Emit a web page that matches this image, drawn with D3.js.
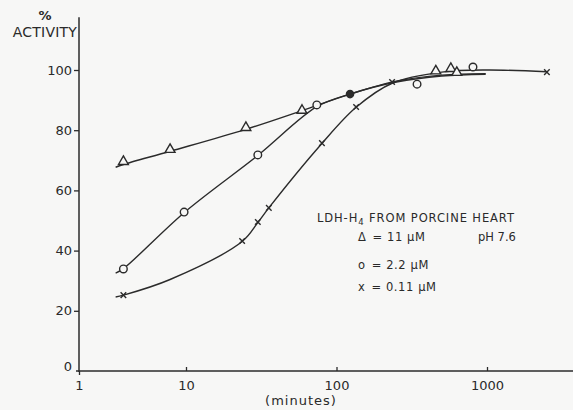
<!DOCTYPE html>
<html>
<head>
<meta charset="utf-8">
<script src="https://cdn.jsdelivr.net/npm/d3@7"></script>
<style>
  html, body { margin: 0; padding: 0; background: #f7f7f6; }
  svg { display: block; }
  text { font-family: "DejaVu Sans", sans-serif; fill: #2a2a2a; }
</style>
</head>
<body>
<svg id="chart" width="573" height="410"></svg>
<script>
// ---- data (time in minutes, % activity) ----
const xTickValues = [1, 10, 100, 1000];
const xTickLabels = ["1", "10", "100", "1000"];
const yTickValues = [0, 20, 40, 60, 80, 100];

// triangles: 11 µM
const triTime  = [2.6, 7.1, 25, 59, 457, 575, 630];
const triValue = [69.4, 73.4, 80.7, 86.4, 99.5, 100.3, 99.0];
// circles: 2.2 µM
const circTime  = [2.6, 9.6, 30, 74, 343, 807];
const circValue = [33.9, 52.8, 71.8, 88.4, 95.3, 101.0];
// crosses: 0.11 µM
const crossTime  = [2.6, 23.6, 30, 35.5, 80, 135, 234, 2500];
const crossValue = [25.2, 43.2, 49.5, 54.2, 75.7, 87.7, 96.0, 99.3];
// common filled point
const dotTime  = [123];
const dotValue = [92.0];

// hand-drawn fitted curves
const triCurveTime   = [2.2, 2.6, 7.1, 25, 59, 123, 250, 500, 980];
const triCurveValue  = [67.7, 68.6, 73.0, 80.3, 86.5, 92.0, 96.3, 98.3, 98.8];
const circCurveTime  = [2.2, 2.6, 9.6, 30, 74, 123, 250, 500, 980];
const circCurveValue = [32.5, 34.0, 52.6, 71.6, 87.8, 92.0, 96.0, 98.0, 98.6];
const crossCurveTime  = [2.2, 2.6, 7.1, 23.6, 30, 35.5, 80, 135, 234, 500, 1000, 2500];
const crossCurveValue = [24.6, 25.2, 30.4, 43.0, 49.3, 54.2, 75.6, 87.6, 95.6, 99.3, 100.0, 99.4];

const legendTitle = ["LDH-H", "4", " FROM PORCINE HEART"];
const legendRows = [
  { sym: "\u0394", text: "= 11 \u03BCM" },
  { sym: "o", text: "= 2.2 \u03BCM" },
  { sym: "x", text: "= 0.11 \u03BCM" }
];
const phLabel = "pH 7.6";

// ---- layout ----
const ink = "#2b2b2b";
const bg = "#f7f7f6";
const svg = d3.select("#chart");
const x = d3.scaleLog()
  .domain([1, 10, 100, 1000, 10000])
  .range([79, 186, 336.5, 487, 637.5]);
const y = d3.scaleLinear().domain([0, 100]).range([371, 70]);
const xEnd = 4000;   // axis line runs to the right edge
const yTop = 117.5;  // axis line runs above 100

// y axis
const yAxis = d3.axisLeft(y).tickValues(yTickValues).tickSize(5).tickPadding(2)
  .tickFormat(d => String(d));
const gy = svg.append("g").attr("transform", "translate(79,0)").call(yAxis);
gy.select(".domain").remove();
gy.selectAll("line").attr("stroke", ink).attr("stroke-width", 1.3);
gy.selectAll("text").attr("font-size", 13).attr("fill", ink);
gy.selectAll(".tick").filter(d => d === 0).select("line").remove();
gy.selectAll(".tick").filter(d => d === 0).select("text").attr("dy", "-0.05em");
svg.append("line").attr("x1", 79).attr("x2", 79)
  .attr("y1", y(yTop)).attr("y2", y(0) + 1)
  .attr("stroke", ink).attr("stroke-width", 1.5);

// x axis
const xAxis = d3.axisBottom(x).tickValues(xTickValues).tickSizeInner(-4).tickSizeOuter(0)
  .tickPadding(10).tickFormat((d, i) => xTickLabels[i]);
const gx = svg.append("g").attr("transform", `translate(0,${y(0)})`).call(xAxis);
gx.select(".domain").remove();
gx.selectAll("line").attr("stroke", ink).attr("stroke-width", 1.3);
gx.selectAll(".tick").filter(d => d === 1).select("line").attr("y2", 4);
gx.selectAll("text").attr("font-size", 13).attr("fill", ink);
svg.append("line").attr("x1", x(1) - 3).attr("x2", x(xEnd))
  .attr("y1", y(0)).attr("y2", y(0))
  .attr("stroke", ink).attr("stroke-width", 1.5);

// axis titles
svg.append("text").attr("x", 45).attr("y", 20).attr("text-anchor", "middle")
  .attr("font-size", 13).attr("font-weight", "bold").text("%");
svg.append("text").attr("x", 77).attr("y", 37).attr("text-anchor", "end")
  .attr("font-size", 14).attr("letter-spacing", 0.2).text("ACTIVITY");
svg.append("text").attr("x", 301).attr("y", 405).attr("text-anchor", "middle")
  .attr("font-size", 13).attr("letter-spacing", 1).text("(minutes)");

// curves
const line = d3.line().x(d => x(d[0])).y(d => y(d[1])).curve(d3.curveCatmullRom.alpha(0.5));
const curves = [
  d3.zip(triCurveTime, triCurveValue),
  d3.zip(circCurveTime, circCurveValue),
  d3.zip(crossCurveTime, crossCurveValue)
];
svg.append("g").selectAll("path").data(curves).join("path")
  .attr("d", line).attr("fill", "none").attr("stroke", ink).attr("stroke-width", 1.4);

// markers
const mk = svg.append("g").attr("stroke", ink).attr("stroke-width", 1.4);
mk.selectAll("path.tri").data(d3.zip(triTime, triValue)).join("path")
  .attr("class", "tri")
  .attr("d", d3.symbol(d3.symbolTriangle, 42))
  .attr("transform", d => `translate(${x(d[0])},${y(d[1]) - 0.5})`)
  .attr("fill", bg);
mk.selectAll("circle.c").data(d3.zip(circTime, circValue)).join("circle")
  .attr("class", "c").attr("r", 3.8)
  .attr("cx", d => x(d[0])).attr("cy", d => y(d[1]))
  .attr("fill", bg);
mk.selectAll("path.x").data(d3.zip(crossTime, crossValue)).join("path")
  .attr("class", "x")
  .attr("d", d3.symbol(d3.symbolX, 22))
  .attr("transform", d => `translate(${x(d[0])},${y(d[1])})`)
  .attr("fill", "none");
mk.selectAll("circle.dot").data(d3.zip(dotTime, dotValue)).join("circle")
  .attr("class", "dot").attr("r", 3.6)
  .attr("cx", d => x(d[0])).attr("cy", d => y(d[1]))
  .attr("fill", ink);

// legend
const lt = svg.append("text").attr("x", 317).attr("y", 222).attr("font-size", 11.5)
  .attr("letter-spacing", 0.9);
lt.append("tspan").text(legendTitle[0]);
lt.append("tspan").attr("font-size", 8.5).attr("dy", 3).text(legendTitle[1]);
lt.append("tspan").attr("dy", -3).text(legendTitle[2]);

const rowY = [241, 269, 291];
legendRows.forEach((r, i) => {
  const t = svg.append("text").attr("x", 358).attr("y", rowY[i]).attr("font-size", 11.5)
    .attr("letter-spacing", 0.6);
  t.append("tspan").text(r.sym);
  t.append("tspan").attr("dx", 6).text(r.text);
});
svg.append("text").attr("x", 478).attr("y", 241).attr("font-size", 11.5).text(phLabel);
</script>
</body>
</html>
